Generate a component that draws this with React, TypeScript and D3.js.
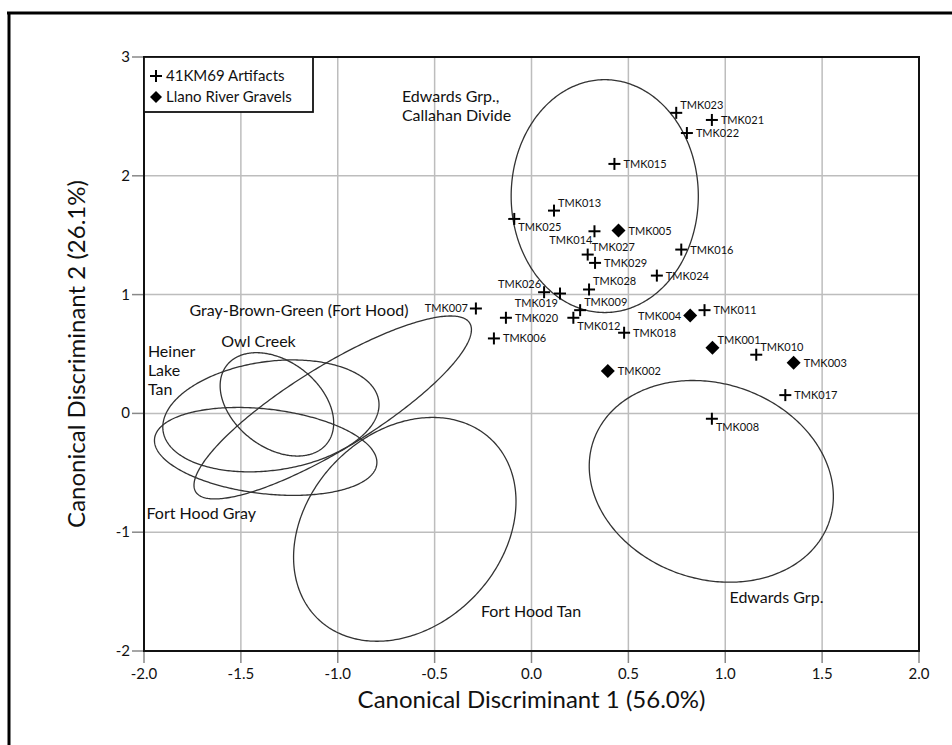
import React from "react";
import * as d3 from "d3";

// ---------- data ----------
const xTicks = [-2.0, -1.5, -1.0, -0.5, 0.0, 0.5, 1.0, 1.5, 2.0];
const yTicks = [-2, -1, 0, 1, 2, 3];

const artifactIds = ["TMK023", "TMK021", "TMK022", "TMK015", "TMK013", "TMK025", "TMK014", "TMK016", "TMK027", "TMK029", "TMK024", "TMK026", "TMK019", "TMK028", "TMK009", "TMK012", "TMK007", "TMK020", "TMK006", "TMK018", "TMK011", "TMK010", "TMK017", "TMK008"];
const artifactX = [0.747, 0.931, 0.802, 0.428, 0.116, -0.089, 0.325, 0.773, 0.29, 0.328, 0.647, 0.065, 0.147, 0.297, 0.251, 0.216, -0.287, -0.132, -0.194, 0.478, 0.893, 1.16, 1.31, 0.931];
const artifactY = [2.53, 2.47, 2.36, 2.1, 1.707, 1.637, 1.533, 1.379, 1.337, 1.267, 1.16, 1.02, 1.009, 1.043, 0.869, 0.805, 0.883, 0.805, 0.631, 0.679, 0.869, 0.494, 0.154, -0.045];

const gravelIds = ["TMK005", "TMK004", "TMK001", "TMK003", "TMK002"];
const gravelX = [0.449, 0.819, 0.934, 1.353, 0.394];
const gravelY = [1.539, 0.824, 0.552, 0.426, 0.356];

// group ellipses: centre, half extents (data units), correlation
const groupNames = ["Edwards Grp., Callahan Divide", "Edwards Grp.", "Fort Hood Tan", "Gray-Brown-Green (Fort Hood)", "Owl Creek", "Heiner Lake Tan", "Fort Hood Gray"];
const groupCx = [0.378, 0.928, -0.654, -1.026, -1.314, -1.345, -1.372];
const groupCy = [1.829, -0.572, -0.976, 0.05, 0.076, -0.021, -0.32];
const groupRx = [0.483, 0.63, 0.574, 0.716, 0.293, 0.558, 0.574];
const groupRy = [0.98, 0.849, 0.942, 0.77, 0.435, 0.471, 0.37];
const groupR = [0.0, -0.15, 0.25, 0.85, -0.36, 0.2, -0.25];

// label placement per point
const labelSide: Record<string, string> = {
  TMK023: "ur", TMK021: "r", TMK022: "r", TMK015: "r", TMK013: "ur", TMK025: "dr",
  TMK014: "dl", TMK016: "r", TMK027: "ur", TMK029: "r", TMK024: "r", TMK026: "ul",
  TMK019: "dl", TMK028: "ur", TMK009: "ur", TMK012: "dr", TMK007: "l", TMK020: "r",
  TMK006: "r", TMK018: "r", TMK011: "r", TMK010: "ur", TMK017: "r", TMK008: "dr",
  TMK005: "r", TMK004: "l", TMK001: "ur", TMK003: "r", TMK002: "r",
};

const regionLabels = [
  { lines: ["Edwards Grp.,", "Callahan Divide"], x: -0.669, y: 2.666 },
  { lines: ["Gray-Brown-Green (Fort Hood)"], x: -1.765, y: 0.86 },
  { lines: ["Owl Creek"], x: -1.601, y: 0.597 },
  { lines: ["Heiner", "Lake", "Tan"], x: -1.98, y: 0.516 },
  { lines: ["Fort Hood Gray"], x: -1.987, y: -0.849 },
  { lines: ["Fort Hood Tan"], x: -0.261, y: -1.674 },
  { lines: ["Edwards Grp."], x: 1.022, y: -1.55 },
];

const legendItems = ["41KM69 Artifacts", "Llano River Gravels"];

// ---------- layout ----------
const W = 952;
const H = 745;
const left = 144;
const right = 919;
const top = 57;
const bottom = 651;
const FONT = "Lato, 'Noto Sans', sans-serif";

const x = d3.scaleLinear().domain([-2, 2]).range([left, right]);
const y = d3.scaleLinear().domain([-2, 3]).range([bottom, top]);

function ellipsePath(i: number): string {
  const cx = groupCx[i], cy = groupCy[i], rx = groupRx[i], ry = groupRy[i], r = groupR[i];
  const s = Math.sqrt(1 - r * r);
  const ts = d3.range(0, 361).map((d) => (d * Math.PI) / 180);
  const line = d3
    .line<number>()
    .x((t) => x(cx + rx * Math.cos(t)))
    .y((t) => y(cy + ry * (r * Math.cos(t) + s * Math.sin(t))))
    .curve(d3.curveLinearClosed);
  return line(ts) || "";
}

function labelPos(side: string) {
  switch (side) {
    case "ur": return { dx: 4, dy: -4, anchor: "start" };
    case "dr": return { dx: 4, dy: 12, anchor: "start" };
    case "l": return { dx: -8, dy: 4, anchor: "end" };
    case "ul": return { dx: -3, dy: -4, anchor: "end" };
    case "dl": return { dx: -2, dy: 13, anchor: "end" };
    default: return { dx: 9, dy: 4, anchor: "start" };
  }
}

function Plus({ cx, cy, s = 6 }: { cx: number; cy: number; s?: number }) {
  return (
    <g stroke="#000" strokeWidth={2}>
      <line x1={cx - s} x2={cx + s} y1={cy} y2={cy} />
      <line x1={cx} x2={cx} y1={cy - s} y2={cy + s} />
    </g>
  );
}

function Diamond({ cx, cy, s = 7 }: { cx: number; cy: number; s?: number }) {
  return <path d={`M${cx},${cy - s}L${cx + s},${cy}L${cx},${cy + s}L${cx - s},${cy}Z`} fill="#000" />;
}

export default function App() {
  return (
    <svg
      width={W}
      height={H}
      style={{ position: "absolute", left: 0, top: 0, background: "#fff" }}
      fontFamily={FONT}
    >
      <rect x={0} y={0} width={W} height={H} fill="#fff" />
      {/* outer frame */}
      <line x1={7} x2={W} y1={13} y2={13} stroke="#000" strokeWidth={3} />
      <line x1={9} x2={9} y1={12} y2={H} stroke="#000" strokeWidth={3} />

      {/* gridlines */}
      {xTicks.slice(1, -1).map((t) => (
        <line key={"gx" + t} x1={x(t)} x2={x(t)} y1={top} y2={bottom} stroke="#bdbdbd" strokeWidth={1.5} />
      ))}
      {yTicks.slice(1, -1).map((t) => (
        <line key={"gy" + t} x1={left} x2={right} y1={y(t)} y2={y(t)} stroke="#bdbdbd" strokeWidth={1.5} />
      ))}

      {/* ticks */}
      {xTicks.map((t) => (
        <g key={"xt" + t}>
          <line x1={x(t)} x2={x(t)} y1={bottom} y2={bottom + 12} stroke="#888" strokeWidth={1.5} />
          <text x={x(t)} y={bottom + 28} textAnchor="middle" fontSize={15} fill="#111">
            {d3.format(".1f")(t).replace("−", "-")}
          </text>
        </g>
      ))}
      {yTicks.map((t) => (
        <g key={"yt" + t}>
          <line x1={left - 12} x2={left} y1={y(t)} y2={y(t)} stroke="#888" strokeWidth={1.5} />
          <text x={left - 14} y={y(t) + 5} textAnchor="end" fontSize={15} fill="#111">
            {String(t)}
          </text>
        </g>
      ))}

      {/* ellipses */}
      {groupNames.map((n, i) => (
        <path key={n} d={ellipsePath(i)} fill="none" stroke="#333" strokeWidth={1.3} />
      ))}

      {/* region labels */}
      {regionLabels.map((l, i) => (
        <text key={"rl" + i} x={x(l.x)} y={y(l.y) + 5} fontSize={16} fill="#111">
          {l.lines.map((ln, j) => (
            <tspan key={j} x={x(l.x)} dy={j === 0 ? 0 : 19}>
              {ln}
            </tspan>
          ))}
        </text>
      ))}

      {/* artifacts */}
      {artifactIds.map((id, i) => {
        const px = x(artifactX[i]);
        const py = y(artifactY[i]);
        const p = labelPos(labelSide[id]);
        return (
          <g key={id}>
            <Plus cx={px} cy={py} />
            <text x={px + p.dx} y={py + p.dy} textAnchor={p.anchor as any} fontSize={11} fill="#111">
              {id}
            </text>
          </g>
        );
      })}

      {/* gravels */}
      {gravelIds.map((id, i) => {
        const px = x(gravelX[i]);
        const py = y(gravelY[i]);
        const p = labelPos(labelSide[id]);
        return (
          <g key={id}>
            <Diamond cx={px} cy={py} />
            <text x={px + p.dx + (p.anchor === "start" ? 1 : -1)} y={py + p.dy} textAnchor={p.anchor as any} fontSize={11} fill="#111">
              {id}
            </text>
          </g>
        );
      })}

      {/* plot frame */}
      <rect x={left} y={top} width={right - left} height={bottom - top} fill="none" stroke="#111" strokeWidth={2} />

      {/* legend */}
      <rect x={left} y={top} width={169} height={55} fill="#fff" stroke="#111" strokeWidth={1.8} />
      <Plus cx={left + 12} cy={top + 19} />
      <text x={left + 22} y={top + 24} fontSize={15} fill="#111">{legendItems[0]}</text>
      <Diamond cx={left + 12} cy={top + 40} s={6} />
      <text x={left + 22} y={top + 45} fontSize={15} fill="#111">{legendItems[1]}</text>

      {/* axis titles */}
      <text x={(left + right) / 2} y={708} textAnchor="middle" fontSize={24} fill="#111">
        Canonical Discriminant 1 (56.0%)
      </text>
      <text
        transform={`translate(85,${(top + bottom) / 2}) rotate(-90)`}
        textAnchor="middle"
        fontSize={24}
        fill="#111"
      >
        Canonical Discriminant 2 (26.1%)
      </text>
    </svg>
  );
}
